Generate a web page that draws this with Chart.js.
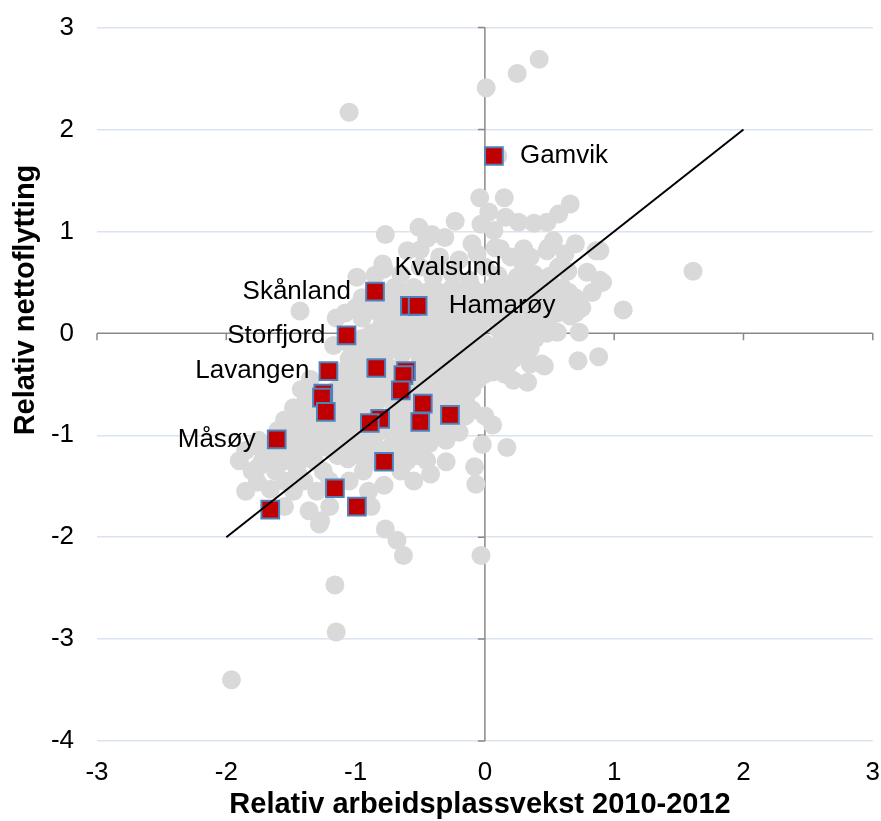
<!DOCTYPE html>
<html>
<head>
<meta charset="utf-8">
<script src="https://cdn.jsdelivr.net/npm/chart.js@4.4.1/dist/chart.umd.min.js"></script>
<style>
  html, body { margin: 0; padding: 0; background: #fff; overflow: hidden; }
  #wrap { width: 881px; height: 821px; position: relative; overflow: hidden; }
  /* canvas is a bit bigger than the window so the plot area lands where the original has it */
  #inner { position: absolute; left: 0; top: -11px; width: 896px; height: 832px; }
</style>
</head>
<body>
<div id="wrap"><div id="inner"><canvas id="chart"></canvas></div></div>
<script>
// --- Data ---
const xTicks = [-3, -2, -1, 0, 1, 2, 3];
const yTicks = [3, 2, 1, 0, -1, -2, -3, -4];
const xTitle = 'Relativ arbeidsplassvekst 2010-2012';
const yTitle = 'Relativ nettoflytting';

// all other municipalities (grey dots), [x, y]
const otherMunicipalities = [
  [0.42, 2.69], [0.25, 2.55], [0.01, 2.41], [-1.05, 2.17], [0.10, 1.74],
  [-0.04, 1.33], [0.15, 1.33], [0.66, 1.27], [0.57, 1.17], [0.03, 1.19], [0.16, 1.14],
  [-0.23, 1.10], [0.26, 1.09], [0.38, 1.08], [0.48, 1.09], [-0.03, 1.07], [-0.51, 1.04], [0.07, 1.01],
  [-0.77, 0.97], [-0.45, 0.93], [-0.31, 0.94], [-0.41, 0.97], [0.53, 0.91],
  [0.12, 0.83], [0.30, 0.83], [0.49, 0.84], [-0.60, 0.81], [0.48, 0.81], [0.86, 0.81], [0.89, 0.81],
  [-0.06, 0.78], [0.08, 0.84], [-0.35, 0.75], [-0.20, 0.72], [0.20, 0.75],
  [-0.50, 0.82], [-0.10, 0.88], [0.35, 0.75], [0.62, 0.78], [0.70, 0.88],
  [-0.79, 0.68], [-0.78, 0.63], [-0.50, 0.65], [-0.38, 0.65], [0.00, 0.65], [0.30, 0.65], [0.57, 0.65],
  [0.64, 0.61], [1.61, 0.61], [0.79, 0.60],
  [-0.85, 0.57], [-0.40, 0.55], [-0.25, 0.58], [0.10, 0.57], [0.25, 0.55], [0.38, 0.58], [0.50, 0.56],
  [-0.99, 0.55], [-0.65, 0.58], [-0.12, 0.52], [0.45, 0.52], [0.89, 0.52], [0.91, 0.50],
  [0.06, 0.45], [0.18, 0.48], [0.42, 0.45], [0.83, 0.40], [1.07, 0.23],
  [-0.70, 0.45], [-0.55, 0.45], [-0.40, 0.45], [-0.25, 0.45], [-0.10, 0.45], [0.30, 0.45], [0.60, 0.45],
  [-0.78, 0.40], [-0.62, 0.40], [-0.46, 0.40], [-0.30, 0.40], [-0.15, 0.40], [0.00, 0.40], [0.13, 0.40],
  [0.24, 0.40], [0.36, 0.40], [0.50, 0.40], [0.65, 0.40],
  [-0.95, 0.35], [-0.78, 0.35], [-0.65, 0.35], [-0.50, 0.35], [-0.35, 0.35], [-0.20, 0.35], [-0.05, 0.35],
  [0.10, 0.35], [0.25, 0.35], [0.40, 0.35], [0.55, 0.35], [0.70, 0.35],
  [-1.43, 0.22], [-1.00, 0.25], [-0.88, 0.25], [-0.70, 0.25], [-0.45, 0.25], [-0.30, 0.25], [-0.15, 0.25],
  [0.00, 0.25], [0.15, 0.25], [0.30, 0.25], [0.45, 0.25], [0.60, 0.25], [0.75, 0.25],
  [-1.08, 0.20], [-0.82, 0.20], [-0.52, 0.20], [-0.34, 0.20], [-0.18, 0.20], [-0.03, 0.20],
  [0.10, 0.20], [0.24, 0.20], [0.40, 0.20], [0.56, 0.20], [0.70, 0.20],
  [-1.15, 0.15], [-0.95, 0.15], [-0.73, 0.15], [-0.60, 0.15], [-0.40, 0.15], [-0.25, 0.15], [-0.10, 0.15],
  [0.05, 0.15], [0.20, 0.15], [0.35, 0.15], [0.49, 0.15], [0.66, 0.17],
  [-0.81, 0.05], [-0.68, 0.05], [-0.50, 0.05], [-0.35, 0.05], [-0.20, 0.05], [-0.05, 0.05],
  [0.10, 0.05], [0.25, 0.05], [0.40, 0.05], [0.56, 0.01], [0.73, 0.01],
  [-0.88, 0.00], [-0.74, 0.00], [-0.58, 0.00], [-0.44, 0.00], [-0.28, 0.00], [-0.12, 0.00],
  [0.20, 0.00], [0.33, 0.00], [0.48, 0.00],
  [-0.95, -0.05], [-0.80, -0.05], [-0.65, -0.05], [-0.50, -0.05], [-0.38, -0.05], [-0.20, -0.05],
  [0.13, -0.06], [0.28, -0.05], [0.39, -0.05],
  [-1.05, -0.10], [-0.72, -0.10], [-0.58, -0.10], [-0.45, -0.10], [-0.30, -0.10], [-0.15, -0.10],
  [0.00, -0.10], [0.25, -0.10],
  [-1.17, -0.12], [-1.00, -0.15], [-0.88, -0.15], [-0.72, -0.15], [-0.55, -0.15], [-0.40, -0.15],
  [-0.25, -0.15], [-0.10, -0.15], [0.05, -0.15], [0.18, -0.15], [0.35, -0.15],
  [-0.98, -0.20], [-0.85, -0.20], [-0.64, -0.20], [-0.46, -0.20], [-0.30, -0.20], [-0.13, -0.20],
  [0.03, -0.20], [0.15, -0.20], [0.30, -0.20],
  [-1.05, -0.25], [-0.92, -0.25], [-0.78, -0.25], [-0.50, -0.25], [-0.36, -0.25], [-0.20, -0.25],
  [-0.05, -0.25], [0.10, -0.25], [0.22, -0.25], [0.44, -0.30], [0.72, -0.27], [0.88, -0.23],
  [-1.00, -0.30], [-0.86, -0.30], [-0.45, -0.30], [-0.28, -0.30], [-0.16, -0.30], [0.00, -0.30],
  [0.18, -0.30], [0.35, -0.30],
  [-1.07, -0.35], [-0.95, -0.35], [-0.72, -0.35], [-0.52, -0.35], [-0.36, -0.35], [-0.22, -0.35],
  [-0.10, -0.35], [0.06, -0.38], [0.10, -0.33], [0.46, -0.32],
  [-1.02, -0.40], [-0.90, -0.40], [-0.78, -0.40], [-0.45, -0.40], [-0.30, -0.40], [-0.12, -0.40],
  [0.00, -0.40], [0.15, -0.40],
  [-1.35, -0.45], [-1.10, -0.45], [-0.98, -0.45], [-0.75, -0.45], [-0.55, -0.45], [-0.38, -0.45],
  [-0.20, -0.48], [-0.05, -0.45], [0.22, -0.46], [0.33, -0.48],
  [-1.05, -0.50], [-0.92, -0.50], [-0.80, -0.50], [-0.66, -0.50], [-0.42, -0.50], [-0.28, -0.50],
  [-0.14, -0.50],
  [-1.42, -0.55], [-1.15, -0.55], [-1.00, -0.55], [-0.85, -0.55], [-0.72, -0.55], [-0.50, -0.55],
  [-0.35, -0.55], [-0.23, -0.58], [-0.10, -0.55],
  [-1.35, -0.60], [-1.05, -0.60], [-0.90, -0.60], [-0.78, -0.60], [-0.60, -0.60], [-0.45, -0.60],
  [-0.30, -0.60], [-0.18, -0.60],
  [-1.38, -0.65], [-1.10, -0.65], [-0.95, -0.65], [-0.82, -0.65], [-0.68, -0.65], [-0.55, -0.65],
  [-0.40, -0.65], [-0.28, -0.65], [-0.15, -0.65],
  [-1.40, -0.70], [-1.15, -0.70], [-0.98, -0.70], [-0.85, -0.70], [-0.62, -0.70], [-0.40, -0.70],
  [-0.28, -0.70],
  [-1.48, -0.73], [-1.05, -0.75], [-0.92, -0.75], [-0.70, -0.75], [-0.58, -0.75], [-0.35, -0.75],
  [-0.22, -0.75], [-0.10, -0.75],
  [-1.35, -0.80], [-1.05, -0.80], [-0.95, -0.80], [-0.68, -0.80], [-0.45, -0.80], [-0.30, -0.80],
  [-1.55, -0.85], [-1.40, -0.85], [-1.12, -0.85], [-1.00, -0.85], [-0.72, -0.85], [-0.62, -0.85],
  [-0.38, -0.85], [-0.15, -0.81], [0.00, -0.81], [0.06, -0.90],
  [-1.50, -0.90], [-1.25, -0.90], [-1.05, -0.90], [-0.75, -0.90], [-0.58, -0.90], [-0.44, -0.90],
  [-0.28, -0.90],
  [-1.60, -0.95], [-1.45, -0.95], [-1.30, -0.95], [-1.12, -0.95], [-0.95, -0.95], [-0.80, -0.95],
  [-0.65, -0.95], [-0.50, -0.95], [-0.35, -0.95], [-0.20, -0.97],
  [-1.52, -1.00], [-1.25, -1.00], [-0.98, -1.00], [-0.85, -1.00], [-0.60, -1.00], [-0.38, -1.00],
  [-1.75, -1.05], [-1.45, -1.05], [-1.36, -1.00], [-1.20, -1.05], [-1.05, -1.05], [-0.90, -1.05],
  [-0.70, -1.05], [-0.55, -1.05], [-0.43, -1.08], [-0.30, -1.05], [-0.02, -1.09],
  [-1.60, -1.10], [-1.30, -1.10], [-1.02, -1.10], [-0.87, -1.10], [-0.72, -1.10], [-0.58, -1.10],
  [-1.85, -1.15], [-1.74, -1.12], [-1.50, -1.15], [-1.42, -1.15], [-1.22, -1.12], [-1.10, -1.15],
  [-0.95, -1.15], [-0.80, -1.15], [-0.65, -1.15], [-0.50, -1.15], [0.17, -1.12],
  [-1.62, -1.20], [-1.48, -1.20], [-0.96, -1.20], [-0.70, -1.20], [-0.52, -1.20],
  [-1.90, -1.25], [-1.72, -1.25], [-1.55, -1.25], [-1.40, -1.22], [-1.32, -1.25], [-1.14, -1.20],
  [-1.06, -1.23], [-0.88, -1.25], [-0.60, -1.25], [-0.45, -1.25], [-0.30, -1.26], [-0.08, -1.31],
  [-1.80, -1.35], [-1.75, -1.31], [-1.62, -1.35], [-1.45, -1.35], [-1.25, -1.35], [-0.94, -1.35],
  [-0.65, -1.35], [-0.42, -1.38],
  [-1.76, -1.46], [-1.55, -1.45], [-1.40, -1.45], [-1.20, -1.45], [-1.05, -1.45], [-0.78, -1.49],
  [-0.55, -1.45], [-0.07, -1.48],
  [-1.85, -1.55], [-1.66, -1.53], [-1.48, -1.55], [-1.30, -1.55], [-0.90, -1.55],
  [-1.55, -1.70], [-1.36, -1.74], [-1.20, -1.70], [-0.88, -1.70],
  [-1.27, -1.84], [-1.28, -1.87], [-0.77, -1.92], [-0.68, -2.03], [-0.63, -2.18], [-0.03, -2.18],
  [-1.16, -2.47], [-1.15, -2.93], [-1.96, -3.40]
];

// highlighted municipalities (red squares)
const highlightX = [0.07, -0.85, -0.58, -0.52, -1.07, -1.21, -0.84, -0.61, -0.63, -0.65,
  -1.25, -1.26, -1.23, -0.48, -0.50, -0.27, -0.81, -0.89, -1.61, -0.78, -1.16, -0.99, -1.66];
const highlightY = [1.74, 0.41, 0.27, 0.27, -0.02, -0.37, -0.34, -0.37, -0.41, -0.56,
  -0.59, -0.63, -0.77, -0.69, -0.87, -0.80, -0.84, -0.88, -1.04, -1.26, -1.52, -1.70, -1.73];
const highlightNames = ['Gamvik', 'Skånland', 'Kvalsund', 'Hamarøy', 'Storfjord', 'Lavangen', '', '', '', '',
  '', '', '', '', '', '', '', '', 'Måsøy', '', '', '', ''];

// 45 degree reference line
const lineX = [-2, 2];
const lineY = [-2, 2];

// --- Styling ---
const FONT = '"Liberation Sans", Arial, Helvetica, sans-serif';
const AXIS_GREY = '#898989';
const GRID_BLUE = '#dae4f0';
const CANVAS_SHIFT = 11; // #inner top offset

// where each name sits relative to its square (px): [dx, dy, align]
const labelPlacement = {
  'Gamvik': [26, 0, 'left'],
  'Hamarøy': [31, 0, 'left'],
  'Kvalsund': [38, -38, 'center'],
  'Skånland': [-24, 0, 'right'],
  'Storfjord': [-21, 0, 'right'],
  'Lavangen': [-19, 0, 'right'],
  'Måsøy': [-21, 0, 'right']
};

const crossAxes = {
  id: 'crossAxes',
  beforeDatasetsDraw(chart) {
    const { ctx, scales: { x, y } } = chart;
    const x0 = x.getPixelForValue(0);
    const y0 = y.getPixelForValue(0);
    ctx.save();
    ctx.strokeStyle = AXIS_GREY;
    ctx.lineWidth = 1.5;
    ctx.beginPath();
    ctx.moveTo(x.left, y0); ctx.lineTo(x.right, y0);
    ctx.moveTo(x0, y.top); ctx.lineTo(x0, y.bottom);
    xTicks.forEach(v => {
      const px = x.getPixelForValue(v);
      ctx.moveTo(px, y0); ctx.lineTo(px, y0 + 7);
    });
    yTicks.forEach(v => {
      const py = y.getPixelForValue(v);
      ctx.moveTo(x0 - 7, py); ctx.lineTo(x0, py);
    });
    ctx.stroke();
    ctx.restore();
  },
  afterDraw(chart) {
    const { ctx, scales: { x, y } } = chart;
    ctx.save();
    ctx.fillStyle = '#000';
    ctx.textBaseline = 'middle';
    ctx.font = '26px ' + FONT;
    highlightNames.forEach((name, i) => {
      if (!name) return;
      const [dx, dy, align] = labelPlacement[name];
      ctx.textAlign = align;
      ctx.fillText(name, x.getPixelForValue(highlightX[i]) + dx, y.getPixelForValue(highlightY[i]) + dy);
    });

    // axis titles
    ctx.font = 'bold 29px ' + FONT;
    ctx.textAlign = 'center';
    ctx.fillText(xTitle, 480, 805 + CANVAS_SHIFT);
    ctx.translate(26, 300 + CANVAS_SHIFT);
    ctx.rotate(-Math.PI / 2);
    ctx.fillText(yTitle, 0, 0);
    ctx.restore();
  }
};

function init() {
  const ctx = document.getElementById('chart').getContext('2d');
  new Chart(ctx, {
    type: 'scatter',
    data: {
      datasets: [
        {
          label: 'Trend',
          type: 'line',
          data: lineX.map((v, i) => ({ x: v, y: lineY[i] })),
          borderColor: '#000',
          borderWidth: 2,
          pointRadius: 0,
          fill: false,
          order: 0
        },
        {
          label: 'Utvalgte kommuner',
          data: highlightX.map((v, i) => ({ x: v, y: highlightY[i] })),
          pointStyle: 'rect',
          pointRadius: 12.5,
          backgroundColor: '#c00000',
          borderColor: '#4f81bd',
          borderWidth: 2,
          order: 1
        },
        {
          label: 'Kommuner',
          data: otherMunicipalities.map(p => ({ x: p[0], y: p[1] })),
          pointStyle: 'circle',
          pointRadius: 9.5,
          backgroundColor: '#d9d9d9',
          borderWidth: 0,
          order: 2
        }
      ]
    },
    options: {
      responsive: true,
      maintainAspectRatio: false,
      animation: false,
      layout: { padding: { top: 16, right: 0, left: 0, bottom: 0 } },
      plugins: {
        legend: { display: false },
        tooltip: { enabled: false }
      },
      scales: {
        x: {
          type: 'linear',
          min: -3, max: 3,
          afterFit: s => { s.height = 80; },
          border: { display: false },
          grid: { display: false, drawTicks: false },
          ticks: {
            stepSize: 1, padding: 16, color: '#000',
            font: { family: FONT, size: 26 }
          }
        },
        y: {
          type: 'linear',
          min: -4, max: 3,
          afterFit: s => { s.width = 97; },
          border: { display: false },
          grid: {
            drawTicks: false,
            lineWidth: 1.5,
            color: c => (c.tick && c.tick.value === 0) ? 'rgba(0,0,0,0)' : GRID_BLUE
          },
          ticks: {
            stepSize: 1, padding: 23, color: '#000',
            font: { family: FONT, size: 26 }
          }
        }
      }
    },
    plugins: [crossAxes]
  });
}

init();
</script>
</body>
</html>
